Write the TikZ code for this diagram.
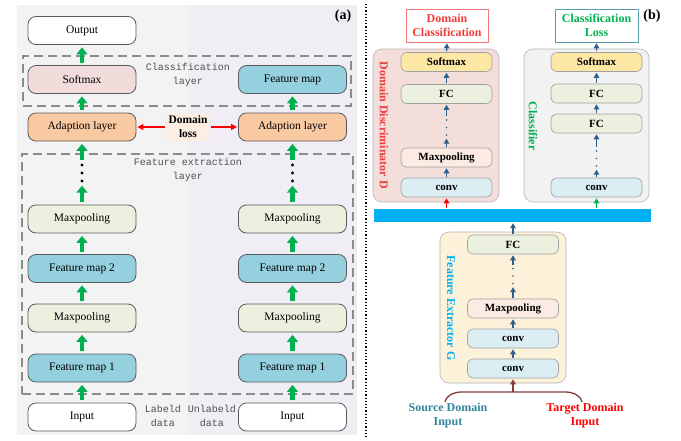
\documentclass[tikz,border=0pt]{standalone}
\usepackage{fontspec}
\setmainfont{Liberation Serif}
\setmonofont{Liberation Mono}
\usetikzlibrary{arrows.meta}
\definecolor{agreen}{HTML}{00B050}
\definecolor{agray}{HTML}{5A5A5A}
\definecolor{dgray}{HTML}{8C8C8C}
\definecolor{tgray}{HTML}{505050}
\definecolor{bgL}{HTML}{F3F3F3}
\definecolor{bgR}{HTML}{F0EEF4}
\definecolor{pinkbox}{HTML}{F2DCDB}
\definecolor{bluebox}{HTML}{95D0DE}
\definecolor{peachbox}{HTML}{F9C9A2}
\definecolor{greenbox}{HTML}{EBF1DE}
\definecolor{lpeach}{HTML}{FDEEE4}
\definecolor{bgray}{HTML}{A0A0A0}
\definecolor{cgray}{HTML}{B4B4B4}
\definecolor{ablue}{HTML}{2F5F8A}
\definecolor{ddfill}{HTML}{F4DEDC}
\definecolor{clfill}{HTML}{F2F2F2}
\definecolor{fefill}{HTML}{FCF1D9}
\definecolor{yelbox}{HTML}{FDE7A5}
\definecolor{lblue}{HTML}{DBEEF3}
\definecolor{lgreen}{HTML}{EBF1DE}
\definecolor{mpeach}{HTML}{FCEBE2}
\definecolor{cyanbar}{HTML}{00B0F0}
\definecolor{dred}{HTML}{F03C3C}
\definecolor{dteal}{HTML}{31859C}
\definecolor{brown}{HTML}{843C3C}
\tikzset{
 abox/.style={draw=agray, line width=0.8pt, rounded corners=8pt, minimum width=108pt, minimum height=28pt, inner sep=0pt, font=\fontsize{11.5}{13}\selectfont},
 garrow/.style={draw=agreen, line width=4.5pt, -{Triangle[width=11pt,length=7pt]}, shorten <=2.5pt, shorten >=2.5pt},
 dashbox/.style={draw=dgray, line width=1.1pt, dash pattern=on 9pt off 5pt},
 ttlabel/.style={font=\ttfamily\fontsize{10}{14}\selectfont, text=tgray, align=center},
 bbox/.style={draw=bgray, line width=0.6pt, rounded corners=6pt, minimum width=91pt, minimum height=19pt, inner sep=0pt, font=\bfseries\fontsize{11}{12}\selectfont},
 container/.style={draw=cgray, line width=0.6pt, rounded corners=9pt},
 barrow/.style={draw=ablue, line width=1.3pt, -{Triangle[width=5.5pt,length=5pt]}, shorten <=1pt, shorten >=1pt},
 rarrow/.style={draw=red, line width=1.3pt, -{Triangle[width=6pt,length=6pt]}, shorten <=1pt, shorten >=1pt},
 dotsnode/.style={minimum width=6pt, minimum height=20pt, inner sep=0pt},
 rotlabel/.style={rotate=-90, font=\bfseries\fontsize{12}{13}\selectfont},
}
\begin{document}
\begin{tikzpicture}[x=1pt,y=-1pt]
\useasboundingbox (0,0) rectangle (681,440);
% ---------- panel (a) ----------
\fill[bgL] (17,5) rectangle (188,435);
\fill[bgR] (188,5) rectangle (357,435);
\node[dashbox, minimum width=328pt, minimum height=50pt] (clsbox) at (187,81) {};
\node[dashbox, minimum width=331pt, minimum height=240pt] (febox) at (187.5,274) {};
\node[ttlabel] (clstxt) at (188,75) {Classification\\layer};
\node[ttlabel] (fetxt) at (188,170) {Feature extraction\\layer};
\node[font=\bfseries\fontsize{14}{14}\selectfont] (la) at (343,16) {(a)};

% left column
\node[abox, fill=white] (outL) at (82,30.5) {Output};
\node[abox, fill=pinkbox] (smL) at (82,79.5) {Softmax};
\node[abox, fill=peachbox] (adL) at (82,127) {Adaption layer};
\node[dotsnode] (dotL) at (82,173) {};
\node[abox, fill=greenbox] (mp2L) at (82,219) {Maxpooling};
\node[abox, fill=bluebox] (fm2L) at (82,268.5) {Feature map 2};
\node[abox, fill=greenbox] (mp1L) at (82,318) {Maxpooling};
\node[abox, fill=bluebox] (fm1L) at (82,368) {Feature map 1};
\node[abox, fill=white] (inL) at (82,417) {Input};
% right column
\node[abox, fill=bluebox] (fmR) at (292.5,79.5) {Feature map};
\node[abox, fill=peachbox] (adR) at (292.5,127) {Adaption layer};
\node[dotsnode] (dotR) at (292.5,173) {};
\node[abox, fill=greenbox] (mp2R) at (292.5,219) {Maxpooling};
\node[abox, fill=bluebox] (fm2R) at (292.5,268.5) {Feature map 2};
\node[abox, fill=greenbox] (mp1R) at (292.5,318) {Maxpooling};
\node[abox, fill=bluebox] (fm1R) at (292.5,368) {Feature map 1};
\node[abox, fill=white] (inR) at (292.5,417) {Input};

\foreach \d in {dotL,dotR}{
  \fill[black] (\d.center) ++(0,-8) circle (1.6pt);
  \fill[black] (\d.center) circle (1.6pt);
  \fill[black] (\d.center) ++(0,8) circle (1.6pt);
}

\foreach \a/\b in {smL/outL, adL/smL, dotL/adL, mp2L/dotL, fm2L/mp2L, mp1L/fm2L, fm1L/mp1L, inL/fm1L,
                   adR/fmR, dotR/adR, mp2R/dotR, fm2R/mp2R, mp1R/fm2R, fm1R/mp1R, inR/fm1R}{
  \draw[garrow] (\a.north) -- (\b.south);
}

\node[fill=lpeach, minimum width=44pt, minimum height=27pt, inner sep=0pt, align=center,
      font=\bfseries\fontsize{11.5}{14}\selectfont] (dloss) at (188,127) {Domain\\loss};
\draw[rarrow] (dloss.west) -- (adL.east);
\draw[rarrow] (dloss.east) -- (adR.west);

\node[ttlabel] (lab1) at (163,416) {Labeld\\data};
\node[ttlabel] (lab2) at (212,416) {Unlabeld\\data};

% separator
\coordinate (sepT) at (366,4);
\coordinate (sepB) at (366,437);
\draw[black, line width=1.2pt, dotted] (sepT) -- (sepB);

% ---------- panel (b) ----------
\node[font=\bfseries\fontsize{14}{14}\selectfont] (lb) at (652,16) {(b)};

\node[container, fill=ddfill, minimum width=126pt, minimum height=153pt] (dd) at (436,125.5) {};
\node[container, fill=clfill, minimum width=125pt, minimum height=153pt] (cl) at (586.5,125.5) {};
\node[container, fill=fefill, minimum width=126pt, minimum height=151pt] (fe) at (503,307.5) {};

\node[rotlabel, text=dred] (ddlab) at (384,125) {Domain Discriminator D};
\node[rotlabel, text=agreen] (cllab) at (533,126) {Classifier};
\node[rotlabel, text=cyanbar] (felab) at (451,308) {Feature Extractor G};

% DD
\node[bbox, fill=yelbox] (ddsm) at (446.5,62) {Softmax};
\node[bbox, fill=lgreen] (ddfc) at (446.5,94) {FC};
\node[dotsnode] (dddot) at (446.5,127.5) {};
\node[bbox, fill=mpeach] (ddmp) at (446.5,157.5) {Maxpooling};
\node[bbox, fill=lblue] (ddconv) at (446.5,187.5) {conv};
% CL
\node[bbox, fill=yelbox] (clsm) at (596.5,62) {Softmax};
\node[bbox, fill=lgreen] (clfc1) at (596.5,93.5) {FC};
\node[bbox, fill=lgreen] (clfc2) at (596.5,123.5) {FC};
\node[dotsnode] (cldot) at (596.5,158.5) {};
\node[bbox, fill=lblue] (clconv) at (596.5,187.5) {conv};
% FE
\node[bbox, fill=lgreen] (fefc) at (513,244.5) {FC};
\node[dotsnode] (fedot) at (513,276) {};
\node[bbox, fill=mpeach] (femp) at (513,308.5) {Maxpooling};
\node[bbox, fill=lblue] (feconv1) at (513,338.5) {conv};
\node[bbox, fill=lblue] (feconv2) at (513,368.5) {conv};

\foreach \d in {dddot,cldot,fedot}{
  \fill[ablue] (\d.center) ++(0,-7.5) circle (0.9pt);
  \fill[ablue] (\d.center) circle (0.9pt);
  \fill[ablue] (\d.center) ++(0,7.5) circle (0.9pt);
}

% titles
\node[draw=dred!70, fill=white, line width=0.6pt, minimum width=82pt, minimum height=33pt, inner sep=0pt, align=center,
      text=dred, font=\bfseries\fontsize{12}{14}\selectfont] (dctitle) at (447,25.5) {Domain\\Classification};
\node[draw=dteal!80, fill=white, line width=0.6pt, minimum width=83pt, minimum height=33pt, inner sep=0pt, align=center,
      text=agreen, font=\bfseries\fontsize{12}{14}\selectfont] (cltitle) at (596.5,25.5) {Classification\\Loss};

% bar
\node[fill=cyanbar, minimum width=277pt, minimum height=13pt, inner sep=0pt] (bar) at (512.5,215.5) {};

% arrows
\foreach \a/\b in {ddsm/dctitle, ddfc/ddsm, dddot/ddfc, ddmp/dddot, ddconv/ddmp,
                   clsm/cltitle, clfc1/clsm, clfc2/clfc1, cldot/clfc2, clconv/cldot,
                   fedot/fefc, femp/fedot, feconv1/femp, feconv2/feconv1}{
  \draw[barrow] (\a.north) -- (\b.south);
}
\draw[barrow] (fefc.north) -- (fefc.north |- bar.south);
\draw[rarrow, line width=1.2pt, -{Triangle[width=5.5pt,length=5pt]}] (ddconv.south |- bar.north) -- (ddconv.south);
\draw[barrow, draw=agreen] (clconv.south |- bar.north) -- (clconv.south);

% inputs
\node[text=dteal, align=center, font=\bfseries\fontsize{12}{14}\selectfont] (src) at (448,415.5) {Source Domain\\Input};
\node[text=red, align=center, font=\bfseries\fontsize{12}{14}\selectfont] (tgt) at (585,415.5) {Target Domain\\Input};
\coordinate (split) at (513,392);
\draw[brown, line width=1.3pt] (445,402) to[out=75,in=180] (462,392) -- (split) -- (565,392) to[out=0,in=105] (582,402);
\draw[brown, line width=1.3pt, -{Triangle[width=5.5pt,length=5pt]}, shorten >=1pt] (split) -- (feconv2.south);
\end{tikzpicture}
\end{document}
